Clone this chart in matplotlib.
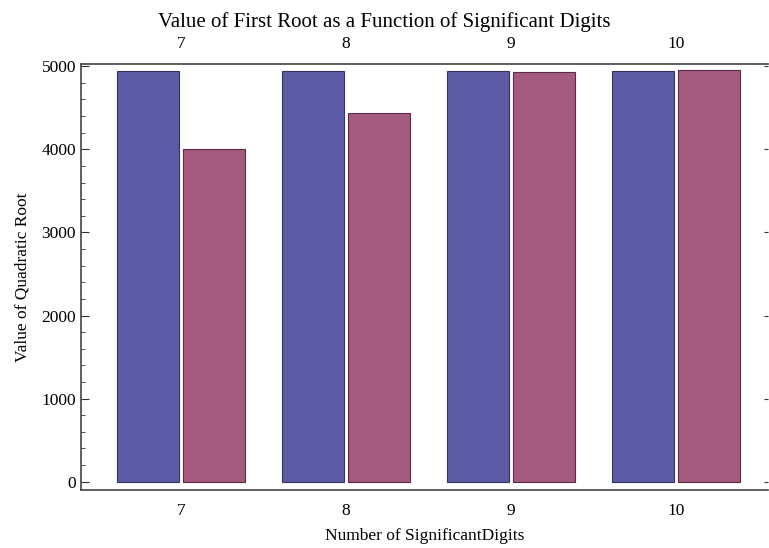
import numpy as np
import matplotlib.pyplot as plt
from matplotlib.ticker import MultipleLocator

plt.rcParams['font.family'] = ['Liberation Serif', 'DejaVu Serif']

digits = ['7', '8', '9', '10']
root_exact = [4946, 4946, 4946, 4946]
root_rounded = [4000, 4437, 4934, 4954]

x = np.arange(1, len(digits) + 1)

fig = plt.figure(figsize=(7.69, 5.48), dpi=100)
ax = fig.add_axes([0.1053, 0.1058, 0.8934, 0.7774])

w = 0.376
ax.bar(x - 0.2, root_exact, width=w, color='#5e5ba6', edgecolor='#34345e', linewidth=0.8)
ax.bar(x + 0.2, root_rounded, width=w, color='#a55b80', edgecolor='#5a2a48', linewidth=0.8)

ax.set_xlim(0.394, 4.558)
ax.set_ylim(-100, 5027)

ax.set_xticks(x)
ax.set_xticklabels(digits)
ax.tick_params(axis='x', length=0, top=True, labeltop=True, labelsize=12.5, pad=9)
ax.yaxis.set_major_locator(MultipleLocator(1000))
ax.yaxis.set_minor_locator(MultipleLocator(200))
ax.tick_params(axis='y', which='major', direction='in', length=6, labelsize=12.5, color='#333333')
ax.tick_params(axis='y', which='minor', direction='in', length=3, color='#333333')

# short ticks on the right edge, no line
sec = ax.secondary_yaxis('right')
sec.yaxis.set_major_locator(MultipleLocator(1000))
sec.tick_params(direction='in', length=3, labelright=False, color='#333333')
sec.spines['right'].set_visible(False)

for s in ['left', 'bottom', 'top']:
    ax.spines[s].set_color('#444444')
    ax.spines[s].set_linewidth(1.2)
ax.spines['right'].set_visible(False)

ax.set_xlabel('Number of SignificantDigits', fontsize=12.5, labelpad=7)
ax.set_ylabel('Value of Quadratic Root', fontsize=12.5, labelpad=8)
ax.set_title('Value of First Root as a Function of Significant Digits', fontsize=15,
             pad=27, x=0.442)

fig.savefig('out.png', dpi=100)
